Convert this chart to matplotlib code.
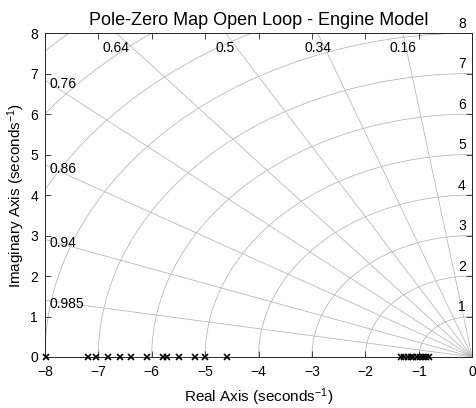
import numpy as np
import matplotlib
matplotlib.use("Agg")
import matplotlib.pyplot as plt

plt.rcParams['font.family'] = ['Liberation Sans', 'DejaVu Sans']
plt.rcParams['mathtext.fontset'] = 'custom'
plt.rcParams['mathtext.rm'] = 'Liberation Sans'
plt.rcParams['mathtext.sf'] = 'Liberation Sans'
plt.rcParams['mathtext.it'] = 'Liberation Sans'

# open loop poles (all real)
poles = [-7.97, -7.2, -7.04, -6.81, -6.6, -6.38, -6.09, -5.78, -5.72,
         -5.48, -5.19, -5.0, -4.59,
         -1.33, -1.27, -1.21, -1.15, -1.1, -1.04, -0.98, -0.93, -0.87, -0.81]

# sgrid values
zetas = [0.16, 0.34, 0.5, 0.64, 0.76, 0.86, 0.94, 0.985]
top_zetas = [0.64, 0.5, 0.34, 0.16]
left_zetas = [0.76, 0.86, 0.94, 0.985]
wns = [1, 2, 3, 4, 5, 6, 7, 8, 9, 10, 11]
wn_labels = [1, 2, 3, 4, 5, 6, 7, 8]

xmin, xmax = -8, 0
ymin, ymax = 0, 8

fig = plt.figure(figsize=(4.77, 4.08), dpi=100)
ax = fig.add_axes([0.094, 0.125, 0.896, 0.794])

gc = '#b4b4b4'
# natural frequency arcs
th = np.linspace(np.pi / 2, np.pi, 300)
for w in wns:
    ax.plot(w * np.cos(th), w * np.sin(th), color=gc, lw=0.55, zorder=1)

# damping lines
R = 20
for z in zetas:
    a = np.arccos(z)
    ax.plot([0, -R * np.cos(a)], [0, R * np.sin(a)], color=gc, lw=0.55, zorder=1)

# damping labels along top edge
for z in top_zetas:
    slope = np.sqrt(1 - z**2) / z
    ax.text(-ymax / slope, 7.63, f'{z:g}', ha='center', va='center', fontsize=10)

# damping labels along left edge
for z in left_zetas:
    slope = np.sqrt(1 - z**2) / z
    ax.text(-7.92, -xmin * slope - 0.1, f'{z:g}', ha='left', va='center', fontsize=10)

# frequency labels at right edge
for w in wn_labels:
    ax.text(-0.12, w + 0.06, f'{w}', ha='right', va='bottom', fontsize=10,
            clip_on=False)

ax.plot(poles, np.zeros(len(poles)), 'x', color='k', ms=4.5, mew=1.2,
        clip_on=False, zorder=5)

ax.set_xlim(xmin, xmax)
ax.set_ylim(ymin, ymax)
ax.set_xticks(range(-8, 1))
ax.set_yticks(range(0, 9))
ax.tick_params(direction='in', top=True, right=True, length=4, width=0.6,
               labelsize=10, colors='#262626', labelcolor='k')
ax.tick_params(axis='x', pad=6)
ax.tick_params(axis='y', pad=5)
for s in ax.spines.values():
    s.set_color('#262626')
    s.set_linewidth(0.7)

ax.set_title('Pole-Zero Map Open Loop - Engine Model', fontsize=13, pad=6)
ax.set_xlabel('Real Axis (seconds$^{\\mathsf{-1}}$)', fontsize=11, labelpad=5)
ax.set_ylabel('Imaginary Axis (seconds$^{\\mathsf{-1}}$)', fontsize=11, labelpad=2)

fig.savefig('out.png', dpi=100)
